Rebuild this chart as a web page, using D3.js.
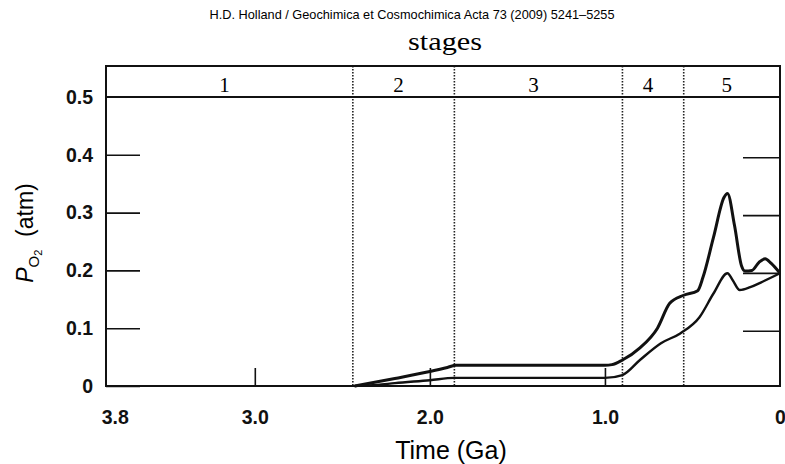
<!DOCTYPE html>
<html>
<head>
<meta charset="utf-8">
<script src="https://cdn.jsdelivr.net/npm/d3@7"></script>
<style>
  body { margin: 0; background: #fff; }
  svg { display: block; }
</style>
</head>
<body>
<script>
// time in Ga, values in atm
var upperTime = [2.43, 2.2, 2.0, 1.9, 1.85, 1.5, 1.2, 1.0, 0.96, 0.9, 0.8, 0.7, 0.63, 0.55, 0.47, 0.44, 0.38, 0.32, 0.30, 0.26, 0.22, 0.2, 0.16, 0.12, 0.085, 0.05, 0];
var upperPO2 = [0, 0.013, 0.025, 0.032, 0.036, 0.036, 0.036, 0.036, 0.037, 0.045, 0.066, 0.1, 0.143, 0.157, 0.165, 0.188, 0.257, 0.326, 0.333, 0.278, 0.208, 0.199, 0.2, 0.214, 0.22, 0.212, 0.195];
var lowerTime = [2.43, 2.3, 2.2, 2.0, 1.86, 1.5, 1.0, 0.9, 0.8, 0.68, 0.57, 0.46, 0.38, 0.3, 0.27, 0.23, 0.17, 0.11, 0];
var lowerPO2 = [0, 0.002, 0.005, 0.01, 0.014, 0.014, 0.014, 0.019, 0.045, 0.074, 0.091, 0.119, 0.16, 0.195, 0.183, 0.166, 0.171, 0.179, 0.195];
var stageBounds = [2.44, 1.86, 0.9, 0.55];
var stageNames = ["1", "2", "3", "4", "5"];
var xTicks = [3.8, 3.0, 2.0, 1.0, 0];
var xTickLabels = ["3.8", "3.0", "2.0", "1.0", "0"];
var yTicks = [0, 0.1, 0.2, 0.3, 0.4, 0.5];
var yTickLabels = ["0", "0.1", "0.2", "0.3", "0.4", "0.5"];
var rightTicks = [0.1, 0.2, 0.3, 0.4];

function init() {
    var w = 785, h = 464;
    var left = 106, right = 780, top = 66, bottom = 386;
    var sans = "Liberation Sans, Arial, sans-serif";
    var serif = "Liberation Serif, Times New Roman, serif";

    var svg = d3.select("body").append("svg")
        .attr("width", w)
        .attr("height", h);

    var x = d3.scaleLinear().domain([3.85, 0]).range([left, right]);
    var y = d3.scaleLinear().domain([0, 0.5]).range([bottom, 97]);

    //title
    svg.append("text")
        .attr("x", 412).attr("y", 19)
        .attr("text-anchor", "middle")
        .attr("font-family", sans)
        .attr("font-size", 13.5)
        .attr("textLength", 405)
        .attr("lengthAdjust", "spacingAndGlyphs")
        .text("H.D. Holland / Geochimica et Cosmochimica Acta 73 (2009) 5241\u20135255");

    svg.append("text")
        .attr("x", 445).attr("y", 50)
        .attr("text-anchor", "middle")
        .attr("font-family", serif)
        .attr("font-size", 25)
        .attr("textLength", 74)
        .attr("lengthAdjust", "spacingAndGlyphs")
        .text("stages");

    //stage dividers
    svg.selectAll("line.stage")
        .data(stageBounds)
        .enter()
        .append("line")
        .attr("class", "stage")
        .attr("x1", d => x(d)).attr("x2", d => x(d))
        .attr("y1", top).attr("y2", bottom)
        .attr("stroke", "#222")
        .attr("stroke-width", 1.6)
        .attr("stroke-dasharray", "1.5,1.5");

    var edges = [3.85].concat(stageBounds).concat([0]);
    svg.selectAll("text.stage")
        .data(stageNames)
        .enter()
        .append("text")
        .attr("class", "stage")
        .attr("x", (d, i) => (x(edges[i]) + x(edges[i + 1])) / 2 - 5)
        .attr("y", 92)
        .attr("text-anchor", "middle")
        .attr("font-family", serif)
        .attr("font-size", 21)
        .text(d => d);

    //frame
    svg.append("rect")
        .attr("x", left).attr("y", top)
        .attr("width", right - left).attr("height", bottom - top)
        .attr("fill", "none")
        .attr("stroke", "#111")
        .attr("stroke-width", 2);
    svg.append("line")
        .attr("x1", left).attr("x2", right)
        .attr("y1", y(0.5)).attr("y2", y(0.5))
        .attr("stroke", "#111")
        .attr("stroke-width", 2);

    //y axis
    var yAxis = d3.axisLeft(y)
        .tickValues(yTicks.slice(0, 5))
        .tickFormat((d, i) => yTickLabels[i])
        .tickSizeInner(-34)
        .tickSizeOuter(0)
        .tickPadding(13);
    var gy = svg.append("g")
        .attr("transform", "translate(" + left + ",0)")
        .call(yAxis);
    gy.select(".domain").remove();
    gy.selectAll("line").attr("stroke", "#111").attr("stroke-width", 1.6);
    gy.selectAll("text")
        .attr("font-family", sans)
        .attr("font-weight", "bold")
        .attr("font-size", 19.5)
        .attr("fill", "#111");
    svg.append("text")
        .attr("x", 93).attr("y", y(0.5) + 7)
        .attr("text-anchor", "end")
        .attr("font-family", sans)
        .attr("font-weight", "bold")
        .attr("font-size", 19.5)
        .attr("fill", "#111")
        .text(yTickLabels[5]);

    //right ticks
    svg.selectAll("line.rt")
        .data(rightTicks)
        .enter()
        .append("line")
        .attr("class", "rt")
        .attr("x1", right - 37).attr("x2", right)
        .attr("y1", d => y(d) + 3).attr("y2", d => y(d) + 3)
        .attr("stroke", "#111")
        .attr("stroke-width", 1.6);

    //x axis
    var xAxis = d3.axisBottom(x)
        .tickValues(xTicks)
        .tickFormat((d, i) => xTickLabels[i])
        .tickSizeInner(-18)
        .tickSizeOuter(0)
        .tickPadding(24);
    var gx = svg.append("g")
        .attr("transform", "translate(0," + bottom + ")")
        .call(xAxis);
    gx.select(".domain").remove();
    gx.selectAll("line")
        .attr("stroke", "#111")
        .attr("stroke-width", 1.6)
        .attr("display", d => (d === 3.8 || d === 0) ? "none" : null);
    gx.selectAll("text")
        .attr("font-family", sans)
        .attr("font-weight", "bold")
        .attr("font-size", 19.5)
        .attr("fill", "#111");

    svg.append("text")
        .attr("x", 451).attr("y", 459)
        .attr("text-anchor", "middle")
        .attr("font-family", sans)
        .attr("font-size", 25)
        .text("Time (Ga)");

    //y axis label
    var yl = svg.append("text")
        .attr("transform", "translate(33,233) rotate(-90)")
        .attr("text-anchor", "middle")
        .attr("font-family", sans)
        .attr("font-size", 23);
    yl.append("tspan").attr("font-style", "italic").text("P");
    yl.append("tspan").attr("font-size", 15).attr("dy", 6).text("O");
    yl.append("tspan").attr("font-size", 11).attr("dy", 3).text("2");
    yl.append("tspan").attr("dy", -9).text("\u00a0 (atm)");

    //curves
    var line = d3.line()
        .x(d => x(d[0]))
        .y(d => y(d[1]))
        .curve(d3.curveMonotoneX);
    var upper = upperTime.map((t, i) => [t, upperPO2[i]]);
    var lower = lowerTime.map((t, i) => [t, lowerPO2[i]]);
    svg.append("path")
        .attr("d", line(lower))
        .attr("fill", "none")
        .attr("stroke", "#111")
        .attr("stroke-width", 2.4);
    svg.append("path")
        .attr("d", line(upper))
        .attr("fill", "none")
        .attr("stroke", "#111")
        .attr("stroke-width", 3);
}
window.onload = init;
</script>
</body>
</html>
